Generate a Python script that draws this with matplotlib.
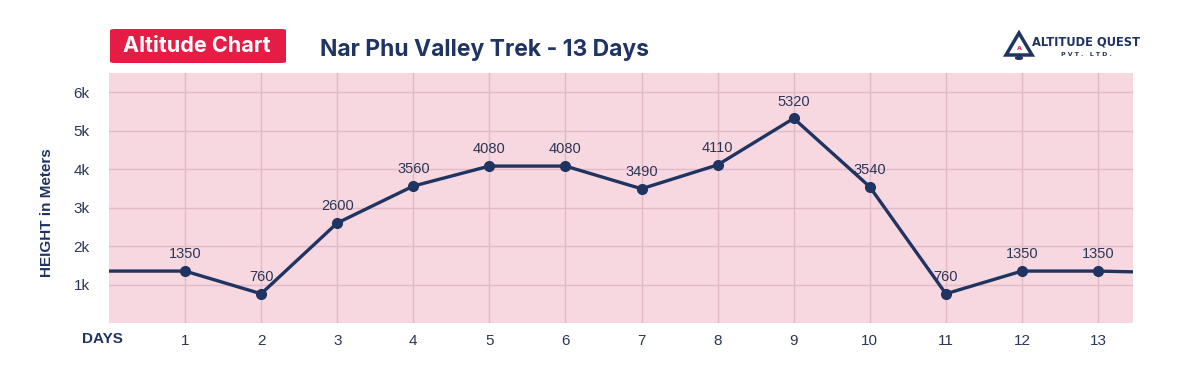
import matplotlib
matplotlib.use("Agg")
import matplotlib.pyplot as plt
from matplotlib.patches import FancyBboxPatch, Polygon, Circle

days = [1, 2, 3, 4, 5, 6, 7, 8, 9, 10, 11, 12, 13]
altitudes = [1350, 760, 2600, 3560, 4080, 4080, 3490, 4110, 5320, 3540, 760, 1350, 1350]
edge_days = [0, 13.46]
edge_alt = [1350, 1330]
yticks = [1000, 2000, 3000, 4000, 5000, 6000]
ytick_labels = ["1k", "2k", "3k", "4k", "5k", "6k"]

navy = "#1F3461"
bg = "#F7D7E0"
grid = "#E2B9C6"
txt = "#2A3655"

fig = plt.figure(figsize=(11.85, 3.74), dpi=100)
fig.patch.set_facecolor("white")
W, H = 1185, 374
ax = fig.add_axes([109 / W, 1 - 323 / H, (1133 - 109) / W, (323 - 73) / H])
ax.set_facecolor(bg)
for s in ax.spines.values():
    s.set_visible(False)

ax.set_xlim(0, 13.46)
ax.set_ylim(0, 6500)
ax.set_xticks(days)
ax.set_xticklabels([str(d) for d in days], fontsize=11, color=txt, family="Liberation Sans")
ax.set_yticks(yticks)
ax.set_yticklabels(ytick_labels, fontsize=11, color=txt, family="Liberation Sans")
ax.tick_params(axis="x", length=0, pad=8)
ax.tick_params(axis="y", length=0, pad=14)
ax.grid(True, color=grid, linewidth=1.0)
ax.set_axisbelow(True)

xs = [edge_days[0]] + days + [edge_days[1]]
ys = [edge_alt[0]] + altitudes + [edge_alt[1]]
ax.plot(xs, ys, color=navy, linewidth=2.4, zorder=3, solid_joinstyle="round")
ax.plot(days, altitudes, "o", color=navy, markersize=7, zorder=4)
for d, a in zip(days, altitudes):
    ax.annotate(str(a), (d, a), xytext=(0, 7), textcoords="offset points",
                ha="center", va="bottom", fontsize=10.5, color=txt, family="Liberation Sans")

fig.text(47 / W, 1 - 213 / H, "HEIGHT in Meters", rotation=90, ha="center", va="center",
         fontsize=11, fontweight="bold", color=navy, family="Liberation Sans")
fig.text(102 / W, 1 - 339 / H, "DAYS", ha="center", va="center",
         fontsize=11, fontweight="bold", color=navy, family="Liberation Sans")

# red badge
badge = FancyBboxPatch((110 / W, 1 - 63 / H), (286 - 110) / W, (63 - 29) / H,
                       boxstyle="round,pad=0,rounding_size=0.004", transform=fig.transFigure,
                       facecolor="#E51D45", edgecolor="none")
fig.patches.append(badge)
fig.text(197 / W, 1 - 46 / H, "Altitude Chart", ha="center", va="center",
         fontsize=15.5, fontweight="bold", color="white", family="Inter")
fig.text(485 / W, 1 - 50 / H, "Nar Phu Valley Trek - 13 Days", ha="center", va="center",
         fontsize=16.5, fontweight="bold", color=navy, family="Inter")

# logo
tri = Polygon([(1019 / W, 1 - 33 / H), (1006 / W, 1 - 55 / H), (1032 / W, 1 - 55 / H)],
              closed=True, transform=fig.transFigure, facecolor="white", edgecolor=navy, linewidth=2.5)
fig.patches.append(tri)
circ = Circle((1019 / W, 1 - 58 / H), 3 / W, transform=fig.transFigure,
              facecolor="white", edgecolor=navy, linewidth=1.5)
fig.patches.append(circ)
fig.text(1019 / W, 1 - 48 / H, "A", ha="center", va="center", fontsize=4.5, color="#E51D45",
         fontweight="bold", family="DejaVu Sans")
fig.text(1086 / W, 1 - 42 / H, "ALTITUDE QUEST", ha="center", va="center",
         fontsize=8.3, fontweight="bold", color=navy, family="DejaVu Sans")
fig.text(1086 / W, 1 - 55 / H, "P V T .   L T D .", ha="center", va="center",
         fontsize=4.5, fontweight="bold", color=navy, family="DejaVu Sans")

fig.savefig("out.png", dpi=100, facecolor="white")
